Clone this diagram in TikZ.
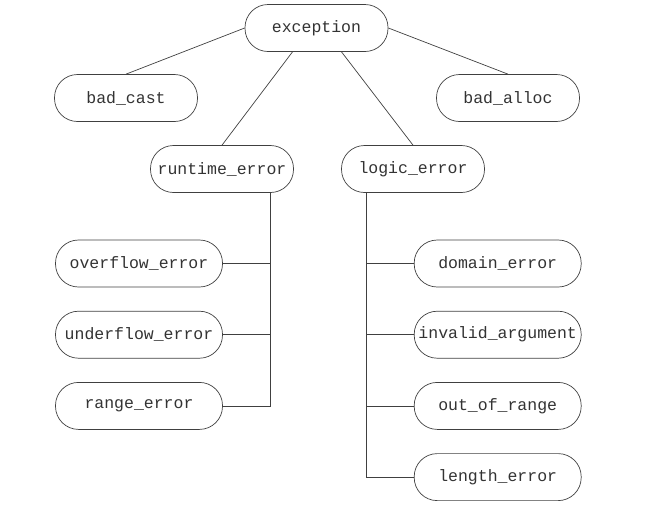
\documentclass[tikz,border=0pt]{standalone}
\usepackage{fontspec}
\setmonofont{Liberation Mono}
\usetikzlibrary{positioning}

\begin{document}
\begin{tikzpicture}[
  x=1pt, y=-1pt,
  font=\ttfamily\fontsize{16.5}{18}\selectfont,
  node distance=23.5pt,
  cls/.style={draw=black!75, line width=0.7pt, rounded corners=23pt,
              minimum width=143pt, minimum height=47pt, inner sep=1pt,
              text=black!80},
  wide/.style={cls, minimum width=167pt},
  link/.style={draw=black!75, line width=0.7pt}
]
  \useasboundingbox (0,0) rectangle (672,507);

  \node[cls] (exc) at (316.5,28) {exception};
  \node[cls] (cast) at (126,98) {bad\_cast};
  \node[cls] (alloc) at (508,98) {bad\_alloc};
  \node[cls] (rt) at (222,169) {runtime\_error};
  \node[cls] (lg) at (413,169) {logic\_error};

  \node[wide] (over) at (139,263.5) {overflow\_error};
  \node[wide, below=of over] (under) {underflow\_error};
  \node[wide, below=of under] (range) {range\_error};

  \node[wide, right=191pt of over] (dom) {domain\_error};
  \node[wide, below=of dom] (inv) {invalid\_argument};
  \node[wide, below=of inv] (oor) {out\_of\_range};
  \node[wide, below=of oor] (len) {length\_error};

  \draw[link] (exc.west) -- (cast.north);
  \draw[link] (exc.east) -- (alloc.north);
  \draw[link] ([xshift=-24pt]exc.south) -- (rt.north);
  \draw[link] ([xshift=25pt]exc.south) -- (lg.north);

  % runtime branch
  \coordinate (rtrunk) at ([xshift=48pt]rt.south);
  \draw[link] (rtrunk) |- (range.east);
  \draw[link] (over.east) -- (over.east -| rtrunk);
  \draw[link] (under.east) -- (under.east -| rtrunk);

  % logic branch
  \coordinate (ltrunk) at ([xshift=-47pt]lg.south);
  \draw[link] (ltrunk) |- (len.west);
  \draw[link] (dom.west) -- (dom.west -| ltrunk);
  \draw[link] (inv.west) -- (inv.west -| ltrunk);
  \draw[link] (oor.west) -- (oor.west -| ltrunk);
\end{tikzpicture}
\end{document}
